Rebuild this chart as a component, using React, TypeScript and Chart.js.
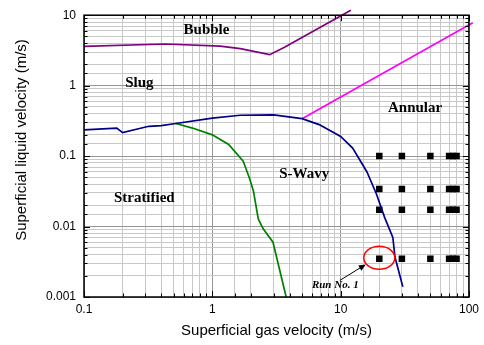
import React, { useEffect, useRef } from "react";
import { Chart, registerables } from "chart.js";

Chart.register(...registerables);

// ---------- data ----------
const xTickLabels = ["0.1", "1", "10", "100"];
const yTickLabels = ["0.001", "0.01", "0.1", "1", "10"];

// Bubble / intermittent boundary (purple)
const bubbleX = [0.1, 0.43, 1.15, 1.65, 2.8, 3.65, 12];
const bubbleY = [3.6, 3.9, 3.65, 3.35, 2.75, 3.5, 11.8];

// Stratified / intermittent & annular boundary (navy)
const stratBoundX = [0.1, 0.18, 0.2, 0.32, 0.4, 0.52, 1, 1.65, 3, 5, 6.8, 10, 12.4, 16, 19, 22, 25.5, 26.5, 30.5];
const stratBoundY = [0.235, 0.25, 0.215, 0.265, 0.27, 0.29, 0.345, 0.38, 0.385, 0.34, 0.28, 0.19, 0.13, 0.06, 0.029, 0.0135, 0.007, 0.0037, 0.0014];

// Smooth / wavy stratified boundary (green)
const wavyX = [0.52, 0.7, 1.0, 1.34, 1.74, 1.96, 2.09, 2.28, 2.49, 2.97, 3.76];
const wavyY = [0.29, 0.25, 0.2, 0.146, 0.085, 0.047, 0.032, 0.0128, 0.0093, 0.006, 0.001];

// Slug / annular boundary (magenta)
const annularX = [5, 107];
const annularY = [0.34, 7.8];

// Experimental runs (squares)
const runGasVel = [20, 30, 50, 70, 75, 80];
const runLiqVel = [0.1, 0.034, 0.0173, 0.0035];

// Highlighted run
const run1Gas = 20;
const run1Liq = 0.0036;

// ---------- helpers ----------
const pts = (xs: number[], ys: number[]) => xs.map((x, i) => ({ x, y: ys[i] }));
const isDecade = (v: number) => Math.abs(Math.log10(v) - Math.round(Math.log10(v))) < 1e-6;
const labelFor = (labels: string[], v: number) => {
  const f = labels.find((l) => Math.abs(Math.log10(Number(l)) - Math.log10(v)) < 1e-6);
  return f ?? "";
};

const runPoints: { x: number; y: number }[] = [];
runLiqVel.forEach((y) => runGasVel.forEach((x) => runPoints.push({ x, y })));

// annotation anchors (data coordinates)
const regionLabels = [
  { text: "Bubble", x: 0.9, y: 6.15 },
  { text: "Slug", x: 0.27, y: 1.1 },
  { text: "Annular", x: 38, y: 0.474 },
  { text: "S-Wavy", x: 5.2, y: 0.0557 },
  { text: "Stratified", x: 0.295, y: 0.0256 },
];
const runLabel = { text: "Run No. 1", x: 9.08, y: 0.00148 };
const arrowTail = { x: 9.85, y: 0.00172 };
const arrowHead = { x: 15.7, y: 0.0029 };

const overlayPlugin = {
  id: "overlay",
  afterDraw(chart: any) {
    const { ctx, chartArea: a, scales } = chart;
    const xs = scales.x;
    const ys = scales.y;
    ctx.save();

    // inner ticks on all four sides
    ctx.strokeStyle = "#000";
    ctx.lineWidth = 1;
    ctx.beginPath();
    xs.ticks.forEach((t: any) => {
      const px = Math.round(xs.getPixelForValue(t.value)) + 0.5;
      const len = isDecade(t.value) ? 6 : 3.5;
      ctx.moveTo(px, a.bottom);
      ctx.lineTo(px, a.bottom - len);
      ctx.moveTo(px, a.top);
      ctx.lineTo(px, a.top + len);
    });
    ys.ticks.forEach((t: any) => {
      const py = Math.round(ys.getPixelForValue(t.value)) + 0.5;
      const len = isDecade(t.value) ? 6 : 3.5;
      ctx.moveTo(a.left, py);
      ctx.lineTo(a.left + len, py);
      ctx.moveTo(a.right, py);
      ctx.lineTo(a.right - len, py);
    });
    ctx.stroke();

    // frame
    ctx.lineWidth = 1.5;
    ctx.strokeRect(a.left, a.top, a.right - a.left, a.bottom - a.top);

    // region labels
    ctx.fillStyle = "#000";
    ctx.textAlign = "center";
    ctx.textBaseline = "middle";
    ctx.font = 'bold 15px "Liberation Serif", "Times New Roman", serif';
    regionLabels.forEach((r) => {
      ctx.fillText(r.text, xs.getPixelForValue(r.x), ys.getPixelForValue(r.y));
    });

    // highlighted run ellipse
    ctx.strokeStyle = "#ff0000";
    ctx.lineWidth = 1.5;
    ctx.beginPath();
    ctx.ellipse(xs.getPixelForValue(run1Gas), ys.getPixelForValue(run1Liq), 15.5, 11.5, 0, 0, Math.PI * 2);
    ctx.stroke();

    // arrow
    const tx = xs.getPixelForValue(arrowTail.x);
    const ty = ys.getPixelForValue(arrowTail.y);
    const hx = xs.getPixelForValue(arrowHead.x);
    const hy = ys.getPixelForValue(arrowHead.y);
    const ang = Math.atan2(hy - ty, hx - tx);
    ctx.strokeStyle = "#000";
    ctx.lineWidth = 1;
    ctx.beginPath();
    ctx.moveTo(tx, ty);
    ctx.lineTo(hx - 5 * Math.cos(ang), hy - 5 * Math.sin(ang));
    ctx.stroke();
    ctx.beginPath();
    ctx.moveTo(hx, hy);
    ctx.lineTo(hx - 7 * Math.cos(ang) + 3 * Math.sin(ang), hy - 7 * Math.sin(ang) - 3 * Math.cos(ang));
    ctx.lineTo(hx - 7 * Math.cos(ang) - 3 * Math.sin(ang), hy - 7 * Math.sin(ang) + 3 * Math.cos(ang));
    ctx.closePath();
    ctx.fillStyle = "#000";
    ctx.fill();

    // run label
    ctx.font = 'italic bold 11px "Liberation Serif", "Times New Roman", serif';
    ctx.fillText(runLabel.text, xs.getPixelForValue(runLabel.x), ys.getPixelForValue(runLabel.y));

    // y axis title
    ctx.save();
    ctx.translate(22, 140);
    ctx.rotate(-Math.PI / 2);
    ctx.font = '15px "Liberation Sans", Arial, sans-serif';
    ctx.fillText("Superficial liquid velocity (m/s)", 0, 0);
    ctx.restore();

    ctx.restore();
  },
};

export default function App() {
  const ref = useRef<HTMLCanvasElement | null>(null);

  useEffect(() => {
    if (!ref.current) return;
    const lineDs = (label: string, xs: number[], ys: number[], color: string, clip: any = undefined) => ({
      label,
      data: pts(xs, ys),
      showLine: true,
      borderColor: color,
      backgroundColor: color,
      borderWidth: 1.7,
      pointRadius: 0,
      tension: 0,
      ...(clip !== undefined ? { clip } : {}),
    });

    const chart = new Chart(ref.current, {
      type: "scatter",
      data: {
        datasets: [
          lineDs("Bubble boundary", bubbleX, bubbleY, "#800080", { left: 0, top: 10, right: 10, bottom: 0 }),
          lineDs("Stratified boundary", stratBoundX, stratBoundY, "#00008b"),
          lineDs("Wavy boundary", wavyX, wavyY, "#008000"),
          lineDs("Annular boundary", annularX, annularY, "#ff00ff", { left: 0, top: 10, right: 10, bottom: 0 }),
          {
            label: "Runs",
            data: runPoints,
            showLine: false,
            pointStyle: "rect",
            pointRadius: 4.6,
            pointHoverRadius: 4.6,
            backgroundColor: "#000",
            borderColor: "#000",
            borderWidth: 0,
          } as any,
        ],
      },
      options: {
        animation: false,
        responsive: false,
        devicePixelRatio: 1,
        layout: { padding: { top: 13, right: 11, left: 0, bottom: 0 } },
        plugins: {
          legend: { display: false },
          tooltip: { enabled: false },
        },
        scales: {
          x: {
            type: "logarithmic",
            min: 0.1,
            max: 100,
            border: { display: false },
            afterFit: (s: any) => {
              s.height = 48;
            },
            grid: {
              drawTicks: false,
              color: (c: any) => (c.tick && isDecade(c.tick.value) ? "#969696" : "#c8c8c8"),
              lineWidth: 1,
            },
            ticks: {
              autoSkip: false,
              maxRotation: 0,
              padding: 5,
              color: "#000",
              font: { family: '"Liberation Sans", Arial, sans-serif', size: 12 },
              callback: (v: any) => labelFor(xTickLabels, Number(v)),
            },
            title: {
              display: true,
              text: "Superficial gas velocity (m/s)",
              color: "#000",
              font: { family: '"Liberation Sans", Arial, sans-serif', size: 15 },
              padding: { top: 0, bottom: 5 },
            },
          },
          y: {
            type: "logarithmic",
            min: 0.001,
            max: 10,
            border: { display: false },
            afterFit: (s: any) => {
              s.width = 84;
            },
            grid: {
              drawTicks: false,
              color: (c: any) => (c.tick && isDecade(c.tick.value) ? "#969696" : "#c8c8c8"),
              lineWidth: 1,
            },
            ticks: {
              autoSkip: false,
              padding: 8,
              color: "#000",
              font: { family: '"Liberation Sans", Arial, sans-serif', size: 12 },
              callback: (v: any) => labelFor(yTickLabels, Number(v)),
            },
            title: { display: false },
          },
        },
      },
      plugins: [overlayPlugin],
    } as any);

    return () => chart.destroy();
  }, []);

  return (
    <div style={{ position: "fixed", left: 0, top: 0, width: 484, height: 345, background: "#fff" }}>
      <canvas ref={ref} width={484} height={345} style={{ width: 484, height: 345 }} />
    </div>
  );
}
